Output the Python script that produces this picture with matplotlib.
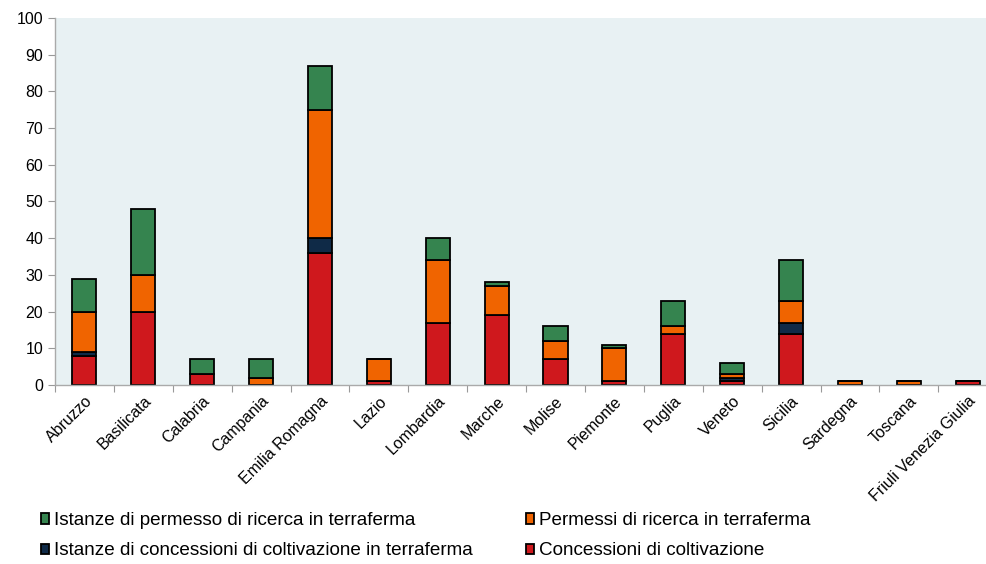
from matplotlib import pyplot as plt
import numpy as np

regions = ['Abruzzo', 'Basilicata', 'Calabria', 'Campania', 'Emilia Romagna',
           'Lazio', 'Lombardia', 'Marche', 'Molise', 'Piemonte', 'Puglia',
           'Veneto', 'Sicilia', 'Sardegna', 'Toscana', 'Friuli Venezia Giulia']

# Values, bottom to top
concessioni = [8, 20, 3, 0, 36, 1, 17, 19, 7, 1, 14, 1, 14, 0, 0, 1]
ist_concessioni = [1, 0, 0, 0, 4, 0, 0, 0, 0, 0, 0, 1, 3, 0, 0, 0]
permessi = [11, 10, 0, 2, 35, 6, 17, 8, 5, 9, 2, 1, 6, 1, 1, 0]
ist_permessi = [9, 18, 4, 5, 12, 0, 6, 1, 4, 1, 7, 3, 11, 0, 0, 0]

labels = ['Concessioni di coltivazione',
          'Istanze di concessioni di coltivazione in terraferma',
          'Permessi di ricerca in terraferma',
          'Istanze di permesso di ricerca in terraferma']
colors = ['#cf181d', '#0f2a47', '#f06400', '#35844f']

plt.rcParams['font.family'] = ['Liberation Sans', 'DejaVu Sans']

fig = plt.figure(figsize=(9.87, 5.64), dpi=100)
ax = fig.add_axes([0.0557, 0.3174, 0.9546, 0.6507])
ax.set_facecolor('#e8f1f3')

x = np.arange(len(regions))
series = [concessioni, ist_concessioni, permessi, ist_permessi]
bottom = np.zeros(len(regions))
bars = []
for vals, col, lab in zip(series, colors, labels):
    vals = np.array(vals, dtype=float)
    b = ax.bar(x, vals, 0.41, bottom=bottom, color=col, edgecolor='black',
               linewidth=1.3, label=lab)
    bars.append(b)
    bottom += vals

ax.set_xlim(-0.5, len(regions) - 0.5)
ax.set_ylim(0, 100)
ax.set_yticks(range(0, 101, 10))
ax.set_xticks(np.arange(-0.5, len(regions), 1.0), minor=False)
ax.set_xticklabels([])
ax.set_xticks(x, minor=True)
ax.set_xticklabels(regions, minor=True, rotation=45, ha='right',
                   rotation_mode='anchor', fontsize=11.5)
ax.tick_params(axis='x', which='minor', length=0, pad=6)
ax.tick_params(axis='x', which='major', length=5, color='#999999', direction='out')
ax.tick_params(axis='y', length=5, color='#999999', labelsize=11.5)

for s in ['top', 'right']:
    ax.spines[s].set_visible(False)
for s in ['left', 'bottom']:
    ax.spines[s].set_color('#aaaaaa')
    ax.spines[s].set_linewidth(1.0)

handles = [bars[3], bars[1], bars[2], bars[0]]
leg = fig.legend(handles, [h.get_label() for h in handles], ncol=2,
                 loc='lower left', bbox_to_anchor=(0.024, -0.022),
                 frameon=False, handlelength=0.45, handleheight=0.45,
                 handletextpad=0.25, columnspacing=2.8, labelspacing=0.7,
                 prop={'family': ['Liberation Sans Narrow', 'Liberation Sans'], 'size': 13.6})

fig.savefig('out.png', dpi=100)
